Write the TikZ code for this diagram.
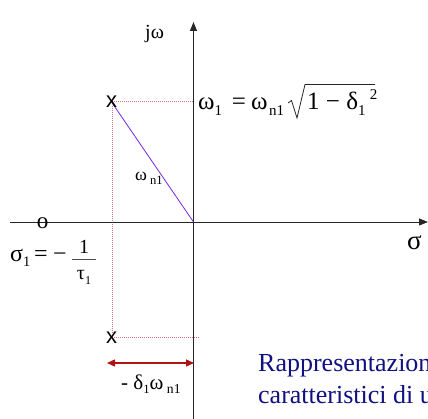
\documentclass[tikz,border=0pt]{standalone}
\usepackage{fontspec}
\setmainfont{Liberation Serif}
\newfontfamily\sansx{Liberation Sans}
\usetikzlibrary{arrows.meta}
\definecolor{navyt}{RGB}{16,16,128}
\definecolor{dotred}{RGB}{210,120,120}
\definecolor{arrred}{RGB}{175,20,20}
\definecolor{violetl}{RGB}{120,40,220}
\newcommand\sbs[2][0.6]{\raisebox{-0.45ex}{\scalebox{#1}{#2}}}
\newcommand\sps[2][0.6]{\raisebox{0.9ex}{\scalebox{#1}{#2}}}
\newcommand\fs[1]{\fontsize{#1}{#1}\selectfont}
\tikzset{
  axis/.style={line width=0.9pt, draw=black!85, -{Triangle[length=9pt,width=7pt]}},
  guide/.style={draw=dotred, line width=0.6pt, dash pattern=on 0.8pt off 1.2pt},
  lbl/.style={inner sep=0pt, anchor=base west},
  ctr/.style={inner sep=0pt, anchor=base},
  pole/.style={inner sep=0pt, font=\sansx\fs{22}},
}
\begin{document}
\begin{tikzpicture}[x=1pt,y=-1pt]
\useasboundingbox (0,0) rectangle (428,419);
\coordinate (O) at (193.5,222);
\coordinate (xl) at (10,222);
\coordinate (xr) at (428,222);
\coordinate (yb) at (193.5,419);
\coordinate (yt) at (193.5,22);
\coordinate (P1) at (111.5,102);
\coordinate (P2) at (111.5,338);
\coordinate (h1) at (194,101);
\coordinate (h2) at (199,337);
\coordinate (a1) at (107,363);
\coordinate (a2) at (194,363);
\coordinate (fb1) at (72,259.5);
\coordinate (fb2) at (96,259.5);
% guides
\draw[guide] (112,101) -- (h1);
\draw[guide] (112,337) -- (h2);
\draw[guide] (112,106) -- (112,334);
% axes
\draw[axis] (xl) -- (xr);
\draw[axis] (yb) -- (yt);
% vector
\draw[violetl, line width=0.8pt] (P1) -- (O);
% poles and zero
\node[pole] (x1) at (P1) {x};
\node[pole] (x2) at (P2) {x};
\node[inner sep=0pt, font=\fs{23}] (z) at (42.5,223.5) {o};
% double arrow
\draw[arrred, line width=1.3pt, {Triangle[length=8pt,width=7pt]}-{Triangle[length=8pt,width=7pt]}] (a1) -- (a2);
% labels
\node[lbl, font=\fs{20}] (jw) at (145,39) {jω};
\node[lbl, font=\fs{27}] (sg) at (407,250) {σ};
% omega_1 formula
\node[lbl, font=\fs{25}] (w1) at (198,110) {ω\sbs{1}};
\node[ctr, font=\fs{25}] (eq1) at (239,110) {=};
\node[lbl, font=\fs{25}] (wn1) at (251,110) {ω\kern1.5pt\sbs{n1}};
\draw[line width=0.8pt, black!85] (288,103) -- (291.5,100.5) -- (297,118) -- (305,84.5) -- (375,84.5);
\node[lbl, font=\fs{25}] (rad) at (307,110) {1 − δ\sbs{1}\,\sps{2}};
% omega_n1 near vector
\node[lbl, font=\fs{18}] (wn) at (135,181) {ω\,\sbs[0.7]{n1}};
% sigma_1 = -1/tau_1
\node[lbl, font=\fs{24}] (s1) at (10,262) {σ\sbs{1}};
\node[ctr, font=\fs{24}] (eq2) at (41,262) {=};
\node[ctr, font=\fs{24}] (mn) at (60,262) {−};
\draw[line width=0.7pt, black!70] (fb1) -- (fb2);
\node[ctr, font=\fs{20}] (num) at (84,254) {1};
\node[ctr, font=\fs{20}] (den) at (84,280) {τ\sbs{1}};
% -delta omega
\node[lbl, font=\fs{21}] (dw) at (121,389) {- δ\sbs{1}ω\,\sbs[0.65]{n1}};
% caption (cut at the right edge, as in the reference)
\begin{scope}
\clip (0,0) rectangle (428,419);
\node[lbl, font=\fs{26}, text=navyt] (cap) at (258,371.5) {Rappresentazion};
\node[lbl, font=\fs{26}, text=navyt] (cap2) at (258,403) {caratteristici di u};
\end{scope}
\end{tikzpicture}
\end{document}
